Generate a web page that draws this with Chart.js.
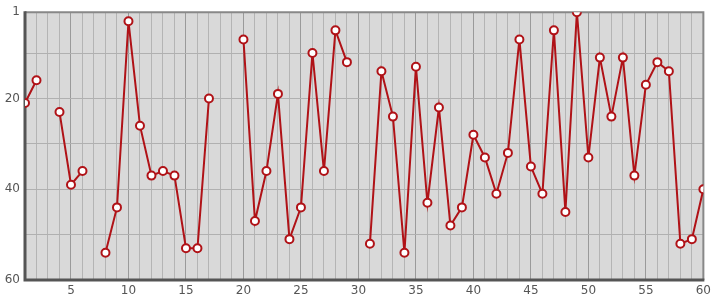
<!DOCTYPE html>
<html>
<head>
<meta charset="utf-8">
<script src="https://cdn.jsdelivr.net/npm/chart.js@4/dist/chart.umd.min.js"></script>
<style>
  html, body { margin: 0; padding: 0; background: #fff; }
  #wrap { width: 715px; height: 300px; }
</style>
</head>
<body>
<div id="wrap"><canvas id="chart" width="715" height="300"></canvas></div>
<script>
// x positions and ranks (null = gap in the line)
const xValues = [
  1, 2, 3, 4, 5, 6, 7, 8, 9, 10,
  11, 12, 13, 14, 15, 16, 17, 18, 19, 20,
  21, 22, 23, 24, 25, 26, 27, 28, 29, 30,
  31, 32, 33, 34, 35, 36, 37, 38, 39, 40,
  41, 42, 43, 44, 45, 46, 47, 48, 49, 50,
  51, 52, 53, 54, 55, 56, 57, 58, 59, 60
];
const rankValues = [
  21, 16, null, 23, 39, 36, null, 54, 44, 3,
  26, 37, 36, 37, 53, 53, 20, null, null, 7,
  47, 36, 19, 51, 44, 10, 36, 5, 12, null,
  52, 14, 24, 54, 13, 43, 22, 48, 44, 28,
  33, 41, 32, 7, 35, 41, 5, 45, 1, 33,
  11, 24, 11, 37, 17, 12, 14, 52, 51, 40
];
const yTicks = [1, 10, 20, 30, 40, 50, 60];
const yLabels = [1, 20, 40, 60];

const lineColor = '#b01217';

// plot background + frame
const framePlugin = {
    id: 'frame',
    beforeDraw(chart) {
        const { ctx, chartArea: a } = chart;
        ctx.save();
        ctx.fillStyle = '#d9d9d9';
        ctx.fillRect(a.left, a.top, a.right - a.left, a.bottom - a.top);
        ctx.restore();
    },
    beforeDatasetsDraw(chart) {
        const { ctx, chartArea: a } = chart;
        ctx.save();
        // top + right lighter edge
        ctx.strokeStyle = '#888';
        ctx.lineWidth = 2;
        ctx.beginPath();
        ctx.moveTo(a.left, a.top);
        ctx.lineTo(a.right, a.top);
        ctx.lineTo(a.right, a.bottom);
        ctx.stroke();
        // left + bottom darker edge
        ctx.strokeStyle = '#555';
        ctx.lineWidth = 3;
        ctx.beginPath();
        ctx.moveTo(a.left, a.top - 1);
        ctx.lineTo(a.left, a.bottom);
        ctx.lineTo(a.right + 1, a.bottom);
        ctx.stroke();
        ctx.restore();
    }
};

const ctx = document.getElementById('chart').getContext('2d');
new Chart(ctx, {
    type: 'line',
    data: {
        datasets: [{
            data: xValues.map((x, i) => ({ x: x, y: rankValues[i] })),
            borderColor: lineColor,
            borderWidth: 2,
            pointRadius: 4,
            pointBorderWidth: 2,
            pointBackgroundColor: '#fff',
            pointBorderColor: lineColor,
            spanGaps: false,
            tension: 0
        }]
    },
    options: {
        responsive: false,
        animation: false,
        layout: { padding: { top: 10, right: 9, left: 0, bottom: 0 } },
        plugins: { legend: { display: false }, tooltip: { enabled: false } },
        scales: {
            x: {
                type: 'linear',
                min: 1,
                max: 60,
                afterFit(scale) { scale.height = 20; },
                afterBuildTicks(scale) {
                    scale.ticks = xValues.map(v => ({ value: v }));
                },
                border: { display: false },
                grid: {
                    color: c => (c.tick && c.tick.value % 5 === 0) ? '#9a9a9a' : '#b4b4b4',
                    lineWidth: 1,
                    drawTicks: false
                },
                ticks: {
                    autoSkip: false,
                    maxRotation: 0,
                    padding: 4,
                    color: '#555',
                    font: { family: 'DejaVu Sans', size: 12 },
                    callback: v => (v % 5 === 0 ? String(v) : '')
                }
            },
            y: {
                type: 'linear',
                reverse: true,
                min: 1,
                max: 60,
                afterFit(scale) { scale.width = 25; },
                afterBuildTicks(scale) {
                    scale.ticks = yTicks.map(v => ({ value: v }));
                },
                border: { display: false },
                grid: { color: '#b0b0b0', lineWidth: 1, drawTicks: false },
                ticks: {
                    padding: 5,
                    color: '#555',
                    font: { family: 'DejaVu Sans', size: 12 },
                    callback: v => (yLabels.includes(v) ? String(v) : '')
                }
            }
        }
    },
    plugins: [framePlugin]
});
</script>
</body>
</html>
